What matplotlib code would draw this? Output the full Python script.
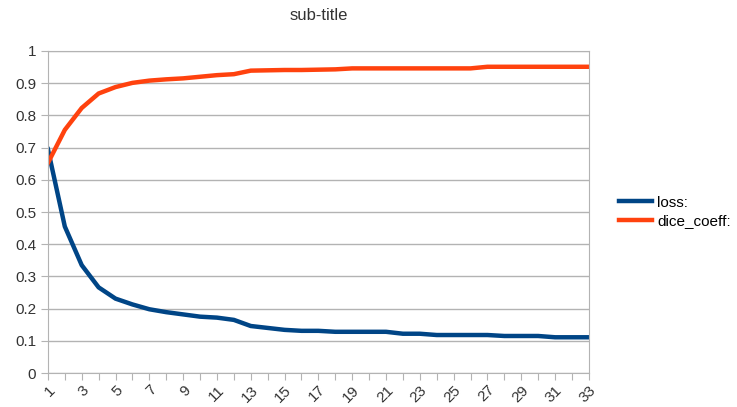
import matplotlib.pyplot as plt

plt.rcParams["font.family"] = ["Liberation Sans", "DejaVu Sans"]

epochs = list(range(1, 34))
loss = [0.695, 0.455, 0.335, 0.266, 0.231, 0.213, 0.198, 0.189, 0.182, 0.175,
        0.172, 0.165, 0.146, 0.140, 0.134, 0.131, 0.131, 0.128, 0.128, 0.128,
        0.128, 0.122, 0.122, 0.118, 0.118, 0.118, 0.118, 0.115, 0.115, 0.115,
        0.111, 0.111, 0.111]
dice_coeff = [0.652, 0.755, 0.823, 0.868, 0.888, 0.901, 0.908, 0.912, 0.915, 0.920,
              0.925, 0.928, 0.939, 0.940, 0.941, 0.941, 0.942, 0.943, 0.946, 0.946,
              0.946, 0.946, 0.946, 0.946, 0.946, 0.946, 0.951, 0.951, 0.951, 0.951,
              0.951, 0.951, 0.951]
tick_labels = [str(e) if e % 2 == 1 else "" for e in epochs]

fig = plt.figure(figsize=(7.37, 4.07), dpi=100)
ax = fig.add_axes([0.065, 0.0835, 0.734, 0.7912])

ax.plot(epochs, loss, color="#004586", lw=3.2, label="loss:", solid_joinstyle="miter")
ax.plot(epochs, dice_coeff, color="#ff420e", lw=3.2, label="dice_coeff:", solid_joinstyle="miter")

ax.set_xlim(1, 33)
ax.set_ylim(0, 1)
ax.set_yticks([i / 10 for i in range(11)])
ax.set_yticklabels(["0", "0.1", "0.2", "0.3", "0.4", "0.5", "0.6", "0.7", "0.8", "0.9", "1"])
ax.set_xticks(epochs)
ax.set_xticklabels(tick_labels, rotation=45, ha="right", rotation_mode="anchor")
ax.grid(axis="y", color="#b3b3b3", lw=1)
ax.set_axisbelow(True)
for s in ax.spines.values():
    s.set_color("#b3b3b3")
ax.tick_params(colors="#b3b3b3", labelcolor="#333333", labelsize=11, length=5)
ax.tick_params(axis="x", pad=2)

ax.set_title("sub-title", fontsize=12, color="#333333", pad=22)
ax.legend(loc="center left", bbox_to_anchor=(1.03, 0.5), frameon=False,
          fontsize=11, handlelength=2.2, handletextpad=0.3, labelspacing=0.3)

fig.savefig("out.png", dpi=100)
